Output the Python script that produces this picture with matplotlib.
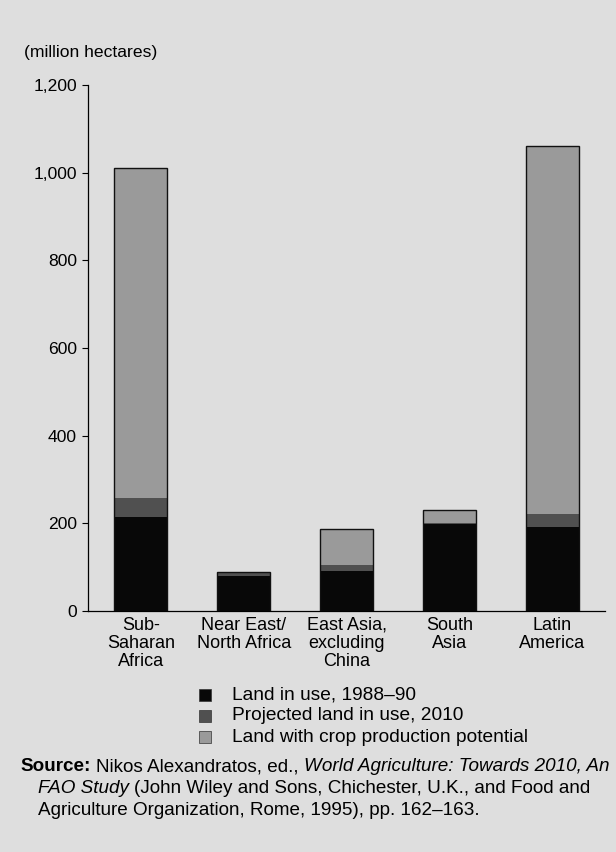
import matplotlib
matplotlib.use("Agg")
import matplotlib.pyplot as plt
from matplotlib.patches import Rectangle

# Cropland by region (million hectares)
regions = ["Sub-\nSaharan\nAfrica", "Near East/\nNorth Africa",
           "East Asia,\nexcluding\nChina", "South\nAsia", "Latin\nAmerica"]
land_in_use = [215, 80, 91, 198, 192]
projected_2010 = [258, 86, 106, 201, 222]
crop_potential = [1010, 90, 186, 230, 1060]
y_ticks = [0, 200, 400, 600, 800, 1000, 1200]
legend_labels = ["Land in use, 1988\u201390",
                 "Projected land in use, 2010",
                 "Land with crop production potential"]

W, H = 616, 852
BG = "#dedede"
C_LAND = "#080808"
C_PROJ = "#505050"
C_POT = "#9a9a9a"
FONT = "Liberation Sans"

plt.rcParams["font.family"] = [FONT, "DejaVu Sans"]

fig = plt.figure(figsize=(W / 100, H / 100), dpi=100, facecolor=BG)


def fx(px):
    return px / W


def fy(py):
    return 1 - py / H


ax = fig.add_axes([fx(88), fy(611), fx(605) - fx(88), fy(85) - fy(611)])
ax.set_facecolor("none")

xs = list(range(len(regions)))
proj_inc = [p - l for p, l in zip(projected_2010, land_in_use)]
pot_inc = [c - p for c, p in zip(crop_potential, projected_2010)]
bw = 0.515
ax.bar(xs, land_in_use, width=bw, color=C_LAND, linewidth=0)
ax.bar(xs, proj_inc, bottom=land_in_use, width=bw, color=C_PROJ, linewidth=0)
ax.bar(xs, pot_inc, bottom=projected_2010, width=bw, color=C_POT, linewidth=0)
ax.bar(xs, crop_potential, width=bw, fill=False, edgecolor="#111111", linewidth=1.0)

ax.set_xlim(-0.515, 4.51)
ax.set_ylim(0, 1200)
for s in ("top", "right"):
    ax.spines[s].set_visible(False)
ax.spines["left"].set_linewidth(0.9)
ax.spines["bottom"].set_linewidth(0.9)

ax.set_yticks(y_ticks)
ax.set_yticklabels([f"{v:,}" for v in y_ticks])
ax.tick_params(axis="y", direction="out", length=4, width=0.8, pad=4, labelsize=12.6)
ax.set_xticks(xs)
ax.set_xticklabels(regions, linespacing=1.08)
ax.tick_params(axis="x", length=0, pad=4, labelsize=13)

fig.text(fx(24), fy(52), "(million hectares)", fontsize=12.6, va="center", ha="left")

# legend
LEG_FS = 13.8
leg_rows = [695, 716, 737]
for lab, col, yy in zip(legend_labels, [C_LAND, C_PROJ, C_POT], leg_rows):
    fig.add_artist(Rectangle((fx(199), fy(yy + 6)), 12 / W, 12 / H,
                             transform=fig.transFigure, facecolor=col,
                             edgecolor="#333333", linewidth=0.5))
    fig.text(fx(232), fy(yy), lab, fontsize=LEG_FS, va="center", ha="left")

# source note with mixed styles
SRC_FS = 13.6
renderer = fig.canvas.get_renderer()


def text_width(s, **kw):
    t = fig.text(0, 0, s, fontsize=SRC_FS, **kw)
    w = t.get_window_extent(renderer).width
    t.remove()
    return w


space_w = text_width("a a") - text_width("aa")
source_lines = [
    (20, 771, [("Source:", {"weight": "bold"}),
               ("Nikos Alexandratos, ed.,", {}),
               ("World Agriculture: Towards 2010, An", {"style": "italic"})]),
    (38, 793, [("FAO Study", {"style": "italic"}),
               ("(John Wiley and Sons, Chichester, U.K., and Food and", {})]),
    (38, 815, [("Agriculture Organization, Rome, 1995), pp. 162\u2013163.", {})]),
]
for x0, yy, parts in source_lines:
    xp = x0
    for txt, kw in parts:
        fig.text(fx(xp), fy(yy), txt, fontsize=SRC_FS, va="baseline", ha="left", **kw)
        xp += text_width(txt, **kw) + space_w

fig.savefig("out.png", dpi=100, facecolor=BG)
